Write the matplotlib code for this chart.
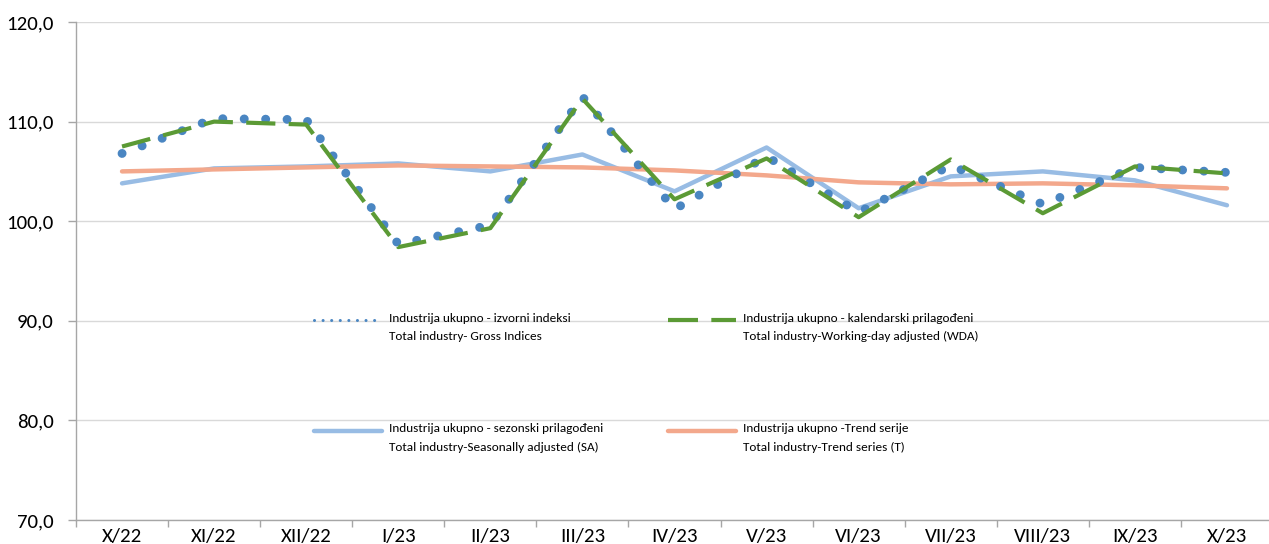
import matplotlib
matplotlib.use("Agg")
import matplotlib.pyplot as plt
from matplotlib.lines import Line2D
from matplotlib.ticker import FixedLocator, FuncFormatter, NullFormatter

plt.rcParams['font.family'] = ['Carlito', 'Lato', 'DejaVu Sans']

months = ['X/22', 'XI/22', 'XII/22', 'I/23', 'II/23', 'III/23', 'IV/23',
          'V/23', 'VI/23', 'VII/23', 'VIII/23', 'IX/23', 'X/23']

# industrija ukupno, indeksi
gross = [106.8, 110.3, 110.2, 97.7, 99.6, 112.5, 101.2, 106.5, 100.9, 105.6, 101.7, 105.4, 104.9]
wda = [107.5, 110.0, 109.7, 97.4, 99.3, 112.3, 102.2, 106.3, 100.4, 106.2, 100.8, 105.5, 104.8]
sa = [103.8, 105.3, 105.5, 105.8, 105.0, 106.7, 103.0, 107.4, 101.3, 104.5, 105.0, 104.1, 101.6]
trend = [105.0, 105.2, 105.4, 105.6, 105.5, 105.4, 105.1, 104.6, 103.9, 103.7, 103.8, 103.6, 103.3]

labels = [
    ('Industrija ukupno - izvorni indeksi', 'Total industry- Gross Indices'),
    ('Industrija ukupno - kalendarski prilagođeni', 'Total industry-Working-day adjusted (WDA)'),
    ('Industrija ukupno - sezonski prilagođeni', 'Total industry-Seasonally adjusted (SA)'),
    ('Industrija ukupno -Trend serije', 'Total industry-Trend series (T)'),
]

c_gross = '#4A86C2'
c_wda = '#5B9A35'
c_sa = '#98BCE4'
c_trend = '#F3A88C'

W, H = 1269, 544
fig = plt.figure(figsize=(W / 100, H / 100), dpi=100)
ax = fig.add_axes([76 / W, 24 / H, 1197 / W, 498 / H])

x = list(range(len(months)))
ax.plot(x, sa, color=c_sa, lw=3.2, solid_capstyle='round', zorder=2)
ax.plot(x, trend, color=c_trend, lw=3.2, solid_capstyle='round', zorder=3)
ax.plot(x, gross, color=c_gross, lw=6.4, linestyle=(0, (0.01, 2.4)),
        dash_capstyle='round', zorder=4)
ax.plot(x, wda, color=c_wda, lw=3.0, linestyle=(0, (7, 3.2)),
        dash_capstyle='butt', zorder=5)

ax.set_xlim(-0.5, len(months) - 0.5)
ax.set_ylim(70, 120)
ax.set_yticks([70, 80, 90, 100, 110, 120])
ax.yaxis.set_major_formatter(FuncFormatter(lambda v, p: f'{v:.1f}'.replace('.', ',')))

# ticks between months, labels in the middle
ax.xaxis.set_major_locator(FixedLocator([i - 0.5 for i in range(len(months) + 1)]))
ax.xaxis.set_major_formatter(NullFormatter())
ax.xaxis.set_minor_locator(FixedLocator(x))
ax.set_xticklabels(months, minor=True)
ax.tick_params(axis='x', which='major', length=5, width=1, color='#A6A6A6', direction='out')
ax.tick_params(axis='x', which='minor', length=0, pad=6, labelsize=15, labelcolor='#000000')
ax.tick_params(axis='y', length=6, width=1, color='#A6A6A6', pad=10, labelsize=15)

ax.grid(axis='y', color='#D9D9D9', lw=1)
ax.set_axisbelow(True)
for s in ['top', 'right']:
    ax.spines[s].set_visible(False)
for s in ['left', 'bottom']:
    ax.spines[s].set_color('#A6A6A6')
    ax.spines[s].set_linewidth(1)


# legend drawn like the excel one: sample line beside the first text row
def legend_entry(px, py, text, **kw):
    fig.add_artist(Line2D([px / W, (px + 68) / W], [1 - py / H, 1 - py / H],
                          transform=fig.transFigure, **kw))
    fig.text((px + 75) / W, 1 - (py - 2) / H, text[0], fontsize=9.5, va='center')
    fig.text((px + 75) / W, 1 - (py + 16) / H, text[1], fontsize=9.5, va='center')


legend_entry(314, 320, labels[0], color=c_gross, lw=2.2,
             linestyle=(0, (0.01, 2.8)), dash_capstyle='round')
legend_entry(668, 320, labels[1], color=c_wda, lw=3.0, linestyle=(0, (7.2, 3.2)))
legend_entry(314, 431, labels[2], color=c_sa, lw=3.2, solid_capstyle='round')
legend_entry(668, 431, labels[3], color=c_trend, lw=3.2, solid_capstyle='round')

fig.savefig('out.png', dpi=100)
